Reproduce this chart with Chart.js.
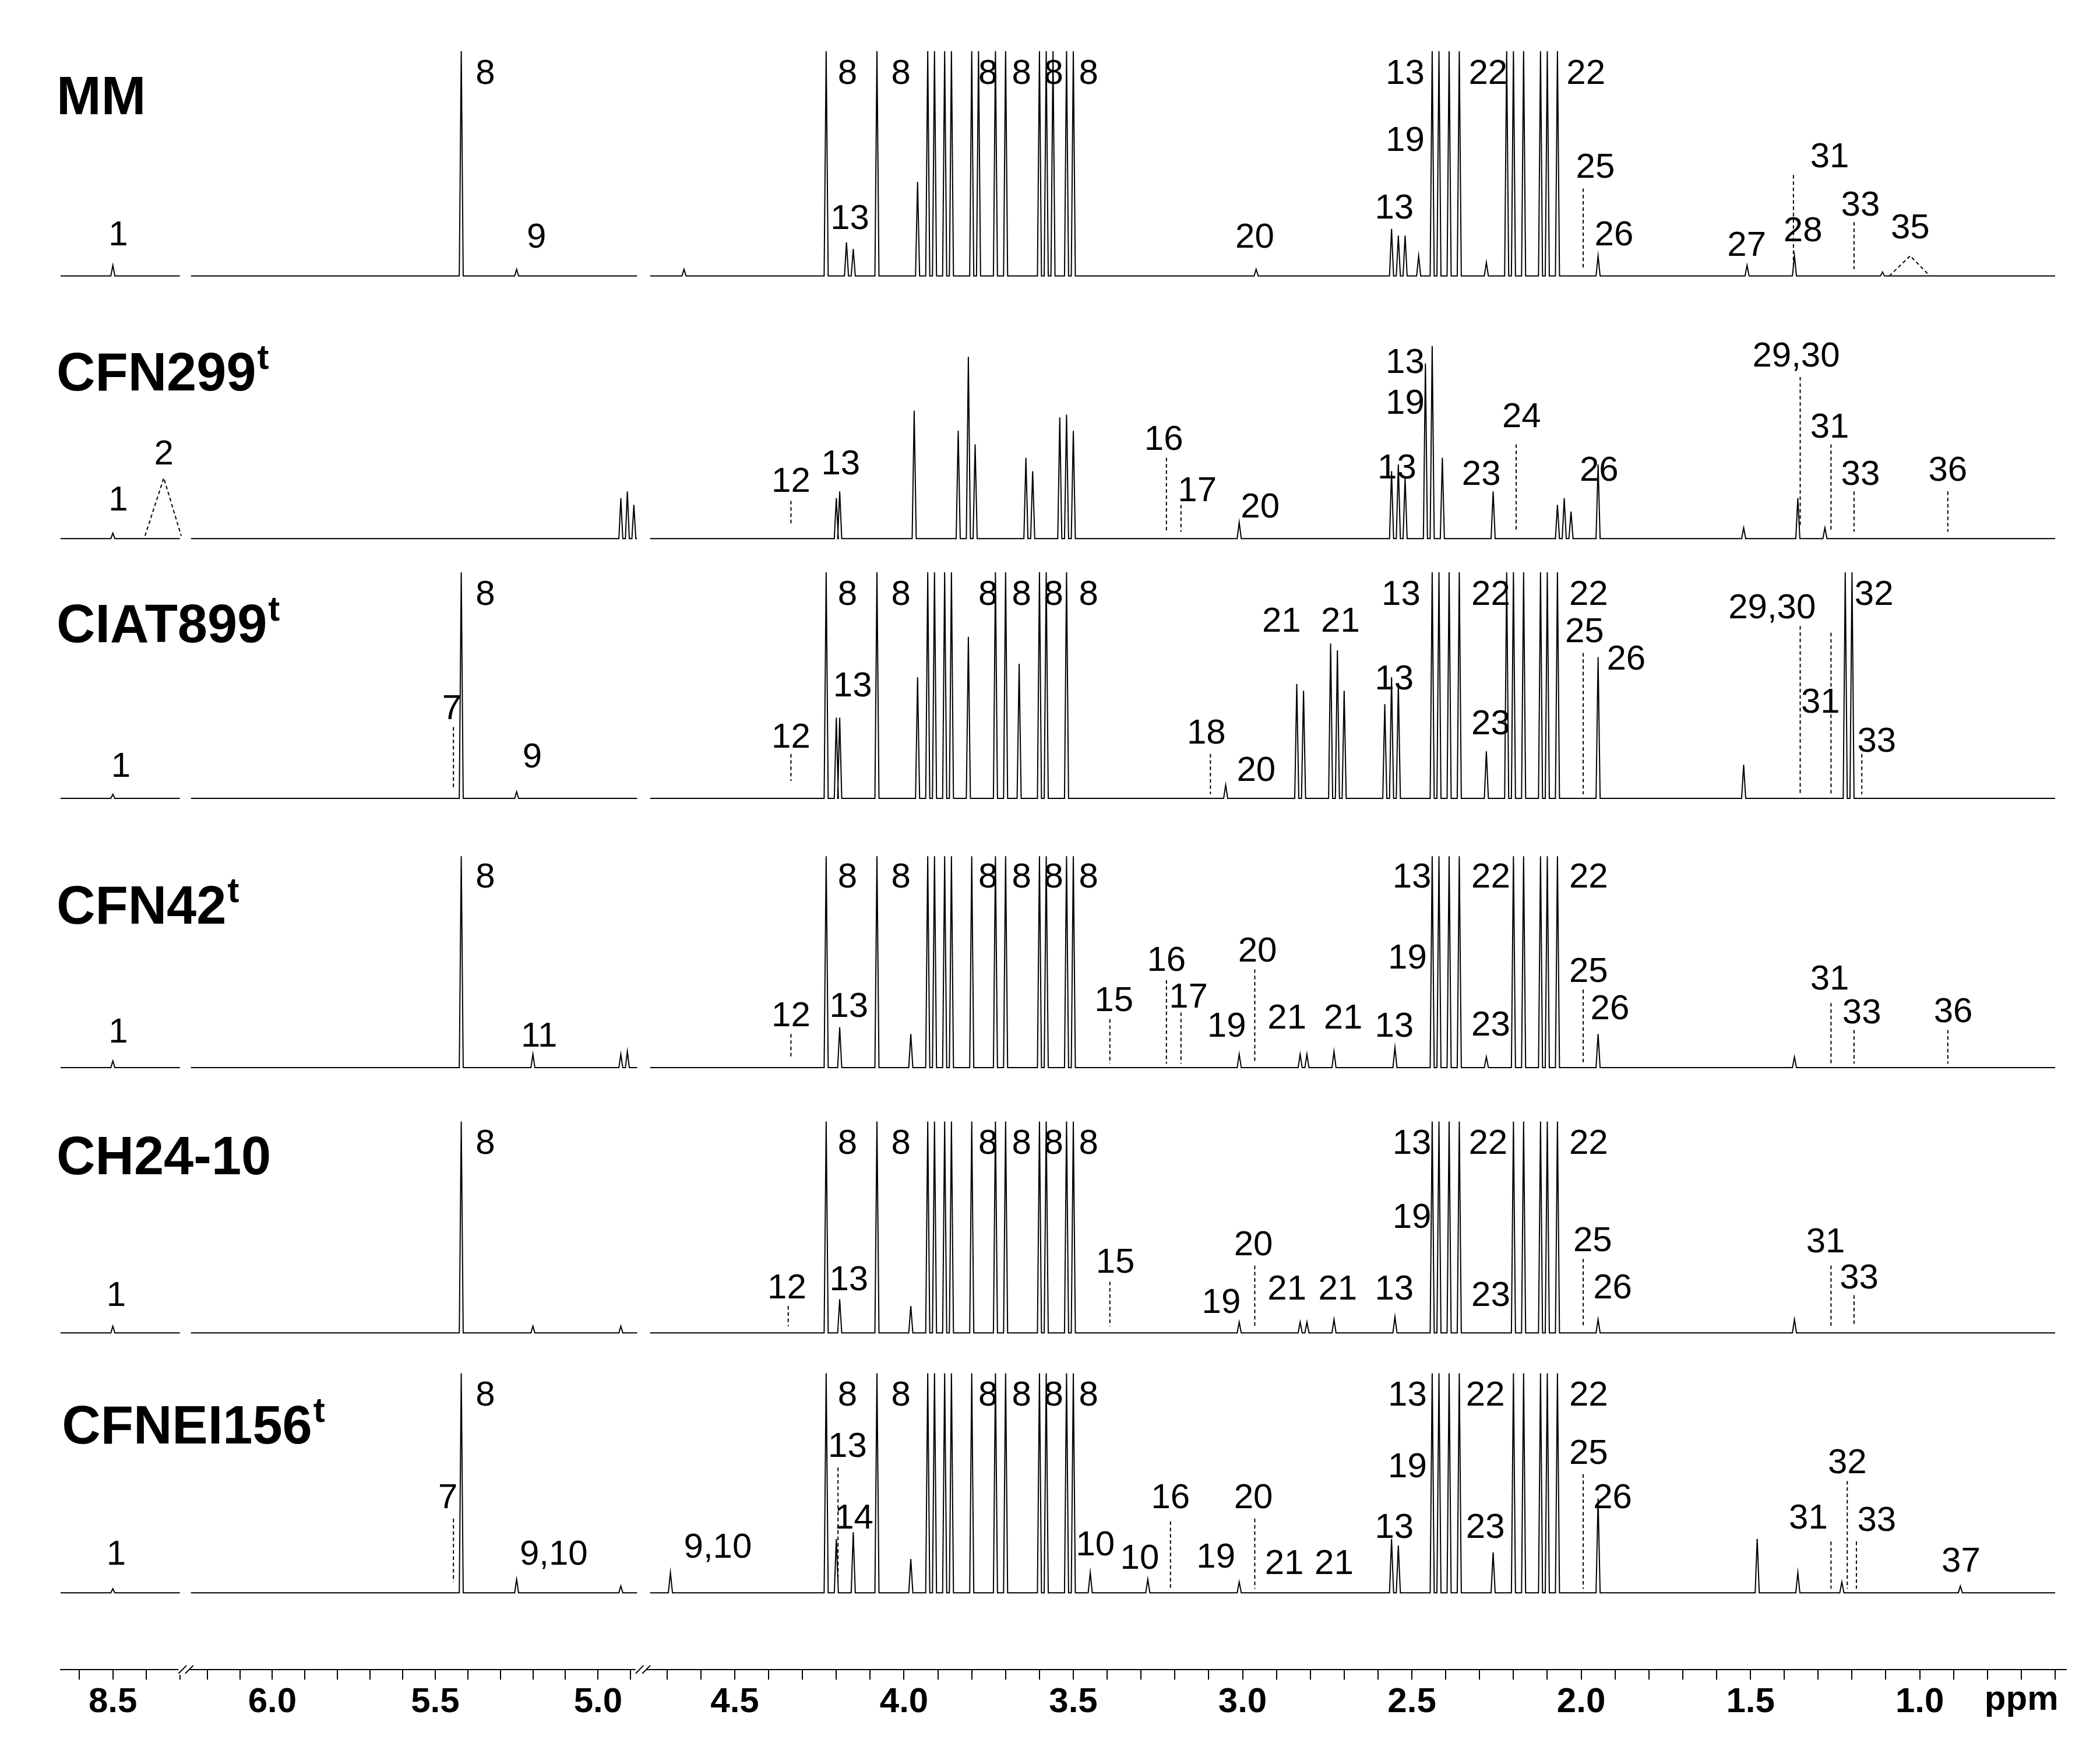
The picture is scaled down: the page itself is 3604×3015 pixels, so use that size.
<!DOCTYPE html>
<html><head><meta charset="utf-8">
<script src="https://cdn.jsdelivr.net/npm/chart.js@4"></script>
<style>html,body{margin:0;padding:0;background:#fff}</style>
</head><body>
<canvas id="c" width="3604" height="3015"></canvas>
<script>
const S = 3604/1560;
// ---- data ----
const sampleNames = ["MM","CFN299","CIAT899","CFN42","CH24-10","CFNEI156"];
const sampleSup = ["","t","t","t","","t"];
const baselines = [205,400,593,793,990,1183];
const segments = [[8.66,8.30],[6.25,4.88],[4.75,0.60]];
const peaksMM = [[8.5,8],[5.42,167],[5.25,5],[4.65,5],[4.23,167],[4.17,25],[4.15,20],[4.08,167],[3.96,70],[3.93,167],[3.91,167],[3.88,167],[3.86,167],[3.80,167],[3.78,167],[3.73,167],[3.70,167],[3.60,167],[3.58,167],[3.56,167],[3.52,167],[3.50,167],[2.96,5],[2.56,35],[2.54,30],[2.52,30],[2.48,15],[2.44,167],[2.42,167],[2.39,167],[2.36,167],[2.28,10],[2.22,167],[2.2,167],[2.17,167],[2.12,167],[2.10,167],[2.07,167],[1.95,15],[1.51,8],[1.37,15],[1.11,3]];
const peaksCFN299 = [[8.5,4],[4.93,30],[4.91,35],[4.89,25],[4.2,30],[4.19,35],[3.97,95],[3.84,80],[3.81,135],[3.79,70],[3.64,60],[3.62,50],[3.54,90],[3.52,92],[3.50,80],[3.01,12],[2.56,50],[2.54,55],[2.52,45],[2.46,130],[2.44,143],[2.41,60],[2.26,35],[2.07,25],[2.05,30],[2.03,20],[1.95,55],[1.52,8],[1.36,30],[1.28,8]];
const peaksCIAT899 = [[8.5,3],[5.42,168],[5.25,5],[4.23,168],[4.2,60],[4.19,60],[4.08,168],[3.96,90],[3.93,168],[3.91,168],[3.88,168],[3.86,168],[3.81,120],[3.73,168],[3.70,168],[3.66,100],[3.60,168],[3.58,168],[3.52,168],[3.05,10],[2.84,85],[2.82,80],[2.74,115],[2.72,110],[2.70,80],[2.58,70],[2.56,90],[2.54,85],[2.44,168],[2.42,168],[2.39,168],[2.36,168],[2.28,35],[2.22,168],[2.2,168],[2.17,168],[2.12,168],[2.10,168],[2.07,168],[1.95,105],[1.52,25],[1.22,168],[1.2,168]];
const peaksCFN42 = [[8.5,5],[5.42,157],[5.2,10],[4.93,10],[4.91,12],[4.23,157],[4.19,30],[4.08,157],[3.98,25],[3.93,157],[3.91,157],[3.88,157],[3.86,157],[3.80,157],[3.73,157],[3.70,157],[3.60,157],[3.58,157],[3.52,157],[3.50,157],[3.01,10],[2.83,10],[2.81,10],[2.73,12],[2.55,15],[2.44,157],[2.42,157],[2.39,157],[2.36,157],[2.28,8],[2.2,157],[2.17,157],[2.12,157],[2.10,157],[2.07,157],[1.95,25],[1.37,8]];
const peaksCH2410 = [[8.5,5],[5.42,157],[5.2,5],[4.93,5],[4.23,157],[4.19,25],[4.08,157],[3.98,20],[3.93,157],[3.91,157],[3.88,157],[3.86,157],[3.80,157],[3.73,157],[3.70,157],[3.60,157],[3.58,157],[3.52,157],[3.50,157],[3.01,8],[2.83,8],[2.81,8],[2.73,10],[2.55,12],[2.44,157],[2.42,157],[2.39,157],[2.36,157],[2.2,157],[2.17,157],[2.12,157],[2.10,157],[2.07,157],[1.95,10],[1.37,10]];
const peaksCFNEI156 = [[8.5,3],[5.42,163],[5.25,10],[4.93,5],[4.69,15],[4.23,163],[4.2,40],[4.15,45],[4.08,163],[3.98,25],[3.93,163],[3.91,163],[3.88,163],[3.86,163],[3.80,163],[3.73,163],[3.70,163],[3.60,163],[3.58,163],[3.52,163],[3.50,163],[3.45,15],[3.28,10],[3.01,8],[2.56,40],[2.54,35],[2.44,163],[2.42,163],[2.39,163],[2.36,163],[2.26,30],[2.2,163],[2.17,163],[2.12,163],[2.10,163],[2.07,163],[1.95,70],[1.48,40],[1.36,15],[1.23,8],[0.88,5]];
const allPeaks = [peaksMM,peaksCFN299,peaksCIAT899,peaksCFN42,peaksCH2410,peaksCFNEI156];
const peakLabels = [
["1",8.484,175],["8",5.346,55],["9",5.189,177],["8",4.167,55],["8",4.009,55],["8",3.752,55],["8",3.653,55],["8",3.558,55],["8",3.455,55],["13",4.16,163],["13",2.52,55],["19",2.52,105],["22",2.275,55],["22",1.986,55],["13",2.552,155],["20",2.964,177],["25",1.958,125],["26",1.903,175],["27",1.511,183],["28",1.345,172],["31",1.266,117],["33",1.175,153],["35",1.028,170],
["13",2.52,270],["19",2.52,300],["29,30",1.365,265],["24",2.176,310],["16",3.233,327],["17",3.134,365],["12",4.334,358],["13",4.187,345],["1",8.484,372],["2",8.348,338],["20",2.948,377],["13",2.544,348],["23",2.295,353],["26",1.947,350],["31",1.266,318],["33",1.175,353],["36",0.917,350],
["8",5.346,442],["8",4.167,442],["8",4.009,442],["8",3.752,442],["8",3.653,442],["8",3.558,442],["8",3.455,442],["13",2.532,442],["22",2.267,442],["22",1.978,442],["21",2.885,462],["21",2.711,462],["29,30",1.436,452],["32",1.135,442],["25",1.99,470],["26",1.867,490],["13",4.152,510],["13",2.552,505],["7",5.449,527],["12",4.334,548],["18",3.107,545],["20",2.96,573],["1",8.476,570],["9",5.202,563],["23",2.267,538],["31",1.293,522],["33",1.127,551],
["8",5.346,652],["8",4.167,652],["8",4.009,652],["8",3.752,652],["8",3.653,652],["8",3.558,652],["8",3.455,652],["13",2.5,652],["22",2.267,652],["22",1.978,652],["20",2.956,707],["16",3.225,714],["17",3.16,741],["19",2.513,712],["25",1.978,722],["31",1.266,728],["36",0.901,752],["15",3.38,744],["13",4.163,748],["12",4.334,755],["21",2.869,757],["21",2.703,757],["19",3.047,763],["13",2.552,763],["23",2.267,762],["26",1.915,750],["33",1.171,753],["1",8.484,767],["11",5.181,770],
["8",5.346,850],["8",4.167,850],["8",4.009,850],["8",3.752,850],["8",3.653,850],["8",3.558,850],["8",3.455,850],["13",2.5,850],["22",2.275,850],["22",1.978,850],["19",2.5,905],["20",2.968,925],["25",1.966,922],["31",1.278,923],["15",3.376,938],["13",4.163,951],["33",1.179,950],["12",4.346,957],["21",2.869,958],["21",2.719,958],["13",2.552,958],["26",1.907,957],["1",8.49,963],["19",3.063,968],["23",2.267,963],
["8",5.346,1037],["8",4.167,1037],["8",4.009,1037],["8",3.752,1037],["8",3.653,1037],["8",3.558,1037],["8",3.455,1037],["13",2.513,1037],["22",2.283,1037],["22",1.978,1037],["13",4.167,1075],["19",2.513,1090],["25",1.978,1080],["32",1.214,1087],["7",5.461,1113],["16",3.213,1113],["20",2.968,1113],["26",1.907,1113],["14",4.148,1128],["31",1.329,1128],["33",1.127,1130],["13",2.552,1135],["23",2.283,1135],["9,10",5.136,1155],["9,10",4.55,1150],["10",3.435,1148],["10",3.304,1158],["1",8.49,1155],["19",3.079,1157],["21",2.877,1162],["21",2.73,1162],["37",0.878,1160]
];
const dashLines = [
[1.994,140,200],[1.373,130,200],[1.194,165,200],
[1.353,280,392],[2.192,330,395],[3.225,340,395],[3.182,375,395],[4.334,372,390],[1.262,330,395],[1.194,365,395],[0.917,365,395],
[1.353,465,590],[1.994,485,590],[5.444,540,585],[4.334,560,580],[3.095,560,590],[1.262,470,590],[1.171,560,590],
[2.964,720,790],[3.225,728,790],[3.182,752,790],[1.994,735,790],[1.262,745,790],[0.917,765,790],[3.392,757,790],[4.334,768,785],[1.194,765,790],
[2.964,940,985],[1.994,935,985],[1.262,940,985],[3.392,952,985],[4.342,970,985],[1.194,962,985],
[4.195,1090,1175],[1.994,1095,1180],[1.214,1100,1180],[5.444,1128,1175],[3.213,1130,1180],[2.964,1128,1180],[1.262,1145,1180],[1.187,1145,1180]
];
const dashTriangles = [[8.404,8.348,8.296,355,398],[1.09,1.028,0.97,190,205]];
const axisY = 1240;

function u(p){
  if (p > 7) return 84 + (8.5-p)*250;
  if (p > 4.8) return 203 + (6-p)*243;
  return 548 + (4.5-p)*252.6;
}
const W = 0.006;
const datasets = allPeaks.map((pk,i)=>{
  const b = baselines[i]; const pts=[];
  segments.forEach(([hi,lo])=>{
    const list = pk.filter(q=>q[0]<hi&&q[0]>lo).sort((a,c)=>c[0]-a[0]);
    pts.push({x:u(hi),y:b});
    list.forEach(([p,h])=>{pts.push({x:u(p+W),y:b});pts.push({x:u(p),y:b-h});pts.push({x:u(p-W),y:b});});
    pts.push({x:u(lo),y:b});
    pts.push({x:u(lo)+1,y:null});
  });
  return {label:sampleNames[i],data:pts,borderColor:'#000',borderWidth:2,pointRadius:0,tension:0,spanGaps:false,fill:false};
});
const tickList=[];
segments.forEach(([hi,lo])=>{
  for(let k=Math.floor(hi*10);k>=Math.ceil(lo*10);k--){const p=k/10; if(p<=hi&&p>=lo) tickList.push(p);}
});
const FONT="'Liberation Sans', Arial, sans-serif";
const overlay={id:'overlay',afterDraw(ch){
  const ctx=ch.ctx,xs=ch.scales.x,ys=ch.scales.y;
  ctx.save();
  ctx.fillStyle='#000';ctx.strokeStyle='#000';
  ctx.font=`${Math.round(26*S)}px ${FONT}`;ctx.textAlign='center';ctx.textBaseline='middle';
  peakLabels.forEach(([t,p,y])=>ctx.fillText(t,xs.getPixelForValue(u(p)),ys.getPixelForValue(y)));
  ctx.setLineDash([4*S/1.5,3*S/1.5]);ctx.lineWidth=2;
  dashLines.forEach(([p,a,b])=>{const x=xs.getPixelForValue(u(p));ctx.beginPath();ctx.moveTo(x,ys.getPixelForValue(a));ctx.lineTo(x,ys.getPixelForValue(b));ctx.stroke();});
  dashTriangles.forEach(([l,m,r,ya,yb])=>{ctx.beginPath();ctx.moveTo(xs.getPixelForValue(u(l)),ys.getPixelForValue(yb));ctx.lineTo(xs.getPixelForValue(u(m)),ys.getPixelForValue(ya));ctx.lineTo(xs.getPixelForValue(u(r)),ys.getPixelForValue(yb));ctx.stroke();});
  ctx.setLineDash([]);
  ctx.textAlign='left';ctx.textBaseline='alphabetic';
  const nameY=[85,290,477,686,872,1072];
  const nameX=[42,42,42,42,42,46];
  sampleNames.forEach((n,i)=>{
    const x=nameX[i]*S, y=ys.getPixelForValue(nameY[i]);
    ctx.font=`bold ${Math.round(40*S)}px ${FONT}`;ctx.fillText(n,x,y);
    if(sampleSup[i]){const w=ctx.measureText(n).width;ctx.font=`bold ${Math.round(26*S)}px ${FONT}`;ctx.fillText(sampleSup[i],x+w+2,y-16*S);}
  });
  const ay=ys.getPixelForValue(axisY);
  [139,480].forEach(g=>{const x=xs.getPixelForValue(g);ctx.fillStyle='#fff';ctx.fillRect(x-6*S,ay-4*S,8*S,8*S);ctx.lineWidth=2;
    [-3,2].forEach(o=>{ctx.beginPath();ctx.moveTo(x+o*S-3*S,ay+3*S);ctx.lineTo(x+o*S+3*S,ay-3*S);ctx.stroke();});});
  ctx.fillStyle='#000';ctx.font=`bold ${Math.round(26*S)}px ${FONT}`;ctx.textAlign='center';ctx.textBaseline='top';
  ctx.fillText('ppm',xs.getPixelForValue(1508),ay+10*S);
  ctx.restore();
}};
new Chart(document.getElementById('c'),{
  type:'line',data:{datasets},
  options:{responsive:false,devicePixelRatio:1,animation:false,
    layout:{padding:{left:45*S,right:3604-1535*S,top:0,bottom:0}},
    plugins:{legend:{display:false},tooltip:{enabled:false}},
    scales:{
      x:{type:'linear',min:45,max:1541.5,position:{y:axisY},
        afterBuildTicks:(sc)=>{sc.ticks=tickList.map(p=>({value:u(p)}));},
        ticks:{autoSkip:false,maxRotation:0,padding:4,color:'#000',font:{family:FONT,weight:'bold',size:Math.round(26*S)},
          callback:(v,i)=>{const p=tickList[i];return (Math.abs(p*2-Math.round(p*2))<1e-6)?p.toFixed(1):'';}},
        grid:{drawOnChartArea:false,drawTicks:true,tickLength:7*S,color:'#000',lineWidth:2},
        border:{display:true,color:'#000',width:2}},
      y:{type:'linear',min:0,max:1305,reverse:true,display:false}
    }},
  plugins:[overlay]
});
</script>
</body></html>
